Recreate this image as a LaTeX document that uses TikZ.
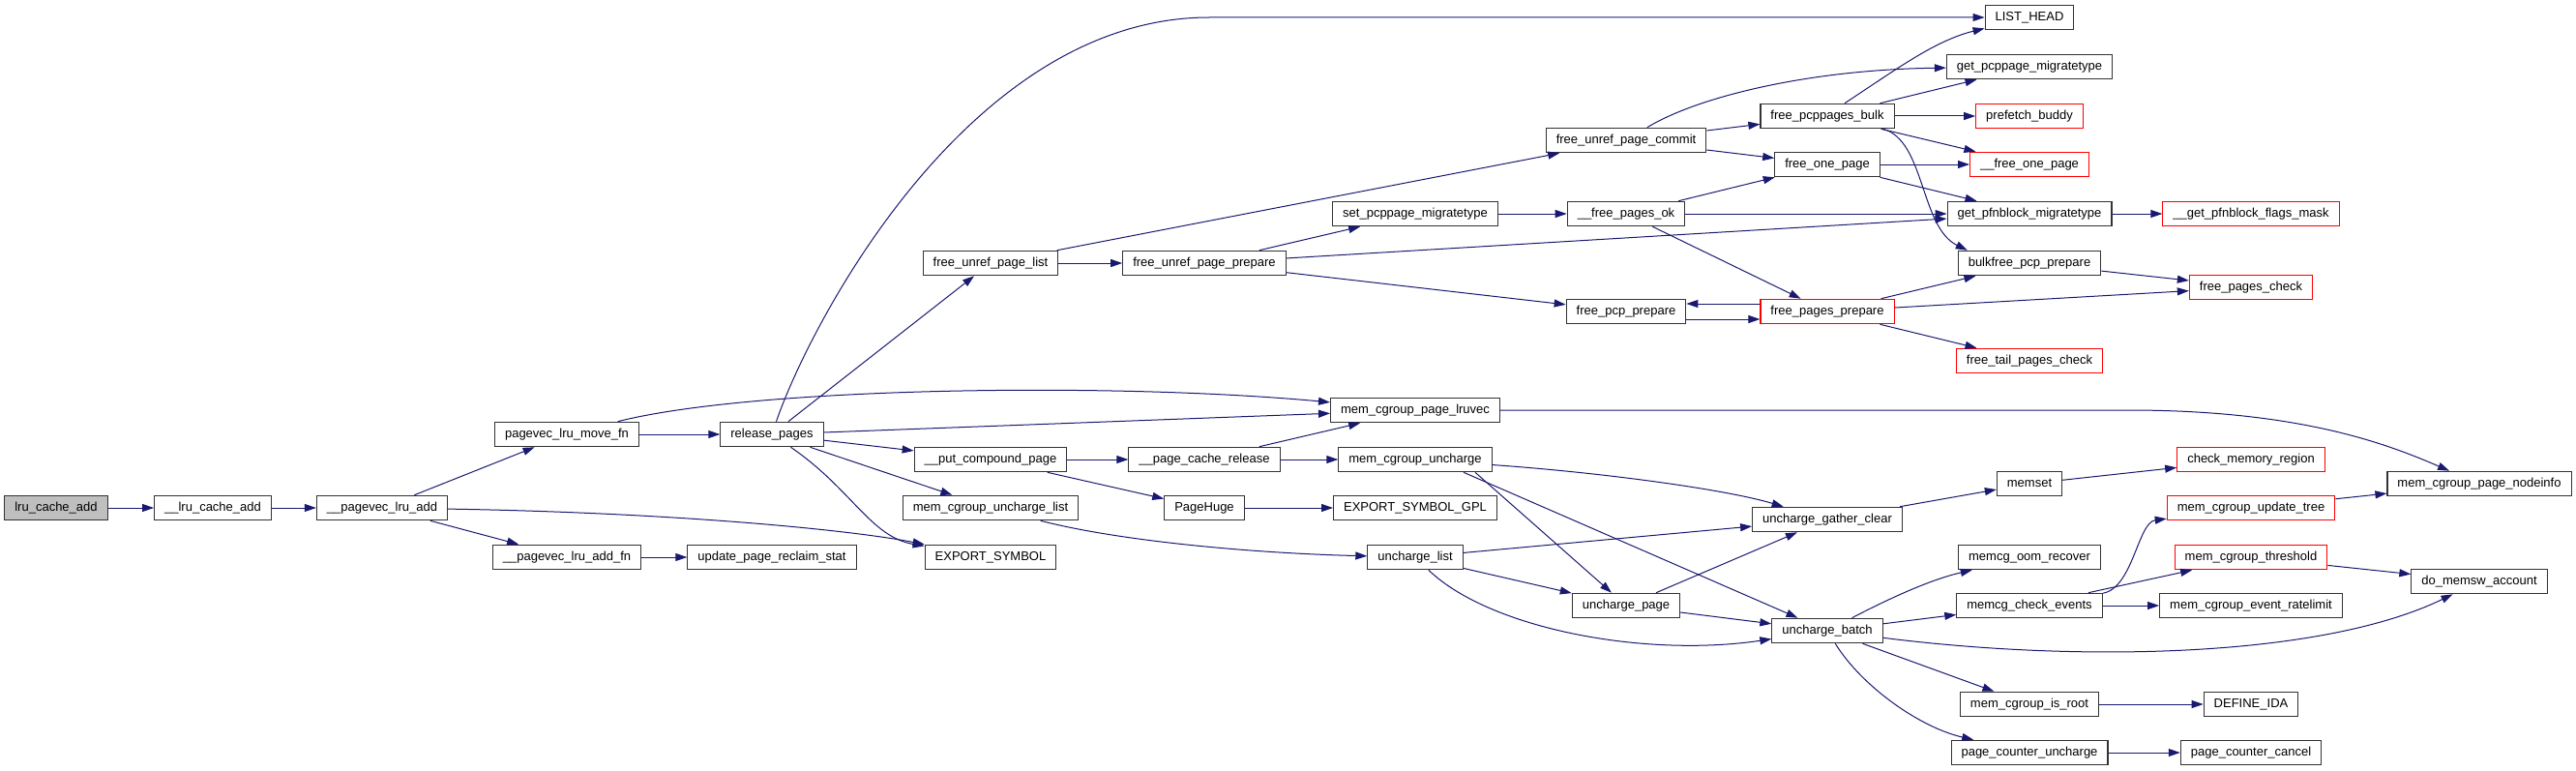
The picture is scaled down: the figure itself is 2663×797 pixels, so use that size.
\documentclass[tikz,border=0pt]{standalone}
\usepackage{fontspec}
\setmainfont{Liberation Sans}
\usetikzlibrary{arrows.meta}
\definecolor{edgeblue}{RGB}{25,25,112}
\definecolor{truncred}{RGB}{255,0,0}

\begin{document}
\begin{tikzpicture}[x=1pt, y=-1pt,
  every node/.style={font=\fontsize{13}{15}\selectfont},
  fn/.style={draw=black!80, fill=white, line width=1.1pt, minimum height=25.5pt, inner xsep=10.5pt, text height=9.6pt, text depth=2.6pt},
  trunc/.style={fn, draw=truncred},
  root/.style={fn, fill=black!25},
  call/.style={draw=edgeblue, line width=1pt, -{Triangle[length=12pt,width=8pt]}}]
  \useasboundingbox (0,0) rectangle (2663,797);

  \node[root] (lruadd) at (58,525) {lru\_cache\_add};
  \node[fn] (lrucadd) at (220,525) {\_\_lru\_cache\_add};
  \node[fn] (pvadd) at (395,525) {\_\_pagevec\_lru\_add};
  \node[fn] (movefn) at (586,449) {pagevec\_lru\_move\_fn};
  \node[fn] (addfn) at (586,576) {\_\_pagevec\_lru\_add\_fn};
  \node[fn] (relpages) at (798,449) {release\_pages};
  \node[fn] (reclaim) at (798,576) {update\_page\_reclaim\_stat};
  \node[fn] (unreflist) at (1024,272) {free\_unref\_page\_list};
  \node[fn] (putcomp) at (1024,475) {\_\_put\_compound\_page};
  \node[fn] (mcgulist) at (1024,525) {mem\_cgroup\_uncharge\_list};
  \node[fn] (expsym) at (1024,576) {EXPORT\_SYMBOL};
  \node[fn] (unrefprep) at (1245,272) {free\_unref\_page\_prepare};
  \node[fn] (cacherel) at (1245,475) {\_\_page\_cache\_release};
  \node[fn] (pagehuge) at (1245,525) {PageHuge};
  \node[fn] (setmt) at (1463,221) {set\_pcppage\_migratetype};
  \node[fn] (lruvec) at (1463,424) {mem\_cgroup\_page\_lruvec};
  \node[fn] (mcgunch) at (1463,475) {mem\_cgroup\_uncharge};
  \node[fn] (expgpl) at (1463,525) {EXPORT\_SYMBOL\_GPL};
  \node[fn] (unchlist) at (1463,576) {uncharge\_list};
  \node[fn] (commit) at (1681,145) {free\_unref\_page\_commit};
  \node[fn] (freeok) at (1681,221) {\_\_free\_pages\_ok};
  \node[fn] (pcpprep) at (1681,322) {free\_pcp\_prepare};
  \node[fn] (unchpage) at (1681,626) {uncharge\_page};
  \node[fn] (pcpbulk) at (1889,120) {free\_pcppages\_bulk};
  \node[fn] (freeone) at (1889,170) {free\_one\_page};
  \node[trunc] (pagesprep) at (1889,322) {free\_pages\_prepare};
  \node[fn] (gather) at (1889,537) {uncharge\_gather\_clear};
  \node[fn] (unchbatch) at (1889,652) {uncharge\_batch};
  \node[fn] (listhead) at (2098,18) {LIST\_HEAD};
  \node[fn] (getpcpmt) at (2098,69) {get\_pcppage\_migratetype};
  \node[trunc] (prefetch) at (2098,120) {prefetch\_buddy};
  \node[trunc] (freeonepg) at (2098,170) {\_\_free\_one\_page};
  \node[fn] (getpfnmt) at (2098,221) {get\_pfnblock\_migratetype};
  \node[fn] (bulkprep) at (2098,272) {bulkfree\_pcp\_prepare};
  \node[trunc] (tailcheck) at (2098,373) {free\_tail\_pages\_check};
  \node[fn] (memset) at (2098,500) {memset};
  \node[fn] (oomrec) at (2098,576) {memcg\_oom\_recover};
  \node[fn] (checkev) at (2098,626) {memcg\_check\_events};
  \node[fn] (isroot) at (2098,728) {mem\_cgroup\_is\_root};
  \node[fn] (pcunch) at (2098,778) {page\_counter\_uncharge};
  \node[trunc] (flagsmask) at (2327,221) {\_\_get\_pfnblock\_flags\_mask};
  \node[trunc] (pagescheck) at (2327,297) {free\_pages\_check};
  \node[trunc] (checkmem) at (2327,475) {check\_memory\_region};
  \node[trunc] (updtree) at (2327,525) {mem\_cgroup\_update\_tree};
  \node[trunc] (threshold) at (2327,576) {mem\_cgroup\_threshold};
  \node[fn] (ratelimit) at (2327,626) {mem\_cgroup\_event\_ratelimit};
  \node[fn] (defida) at (2327,728) {DEFINE\_IDA};
  \node[fn] (pccancel) at (2327,778) {page\_counter\_cancel};
  \node[fn] (nodeinfo) at (2563,500) {mem\_cgroup\_page\_nodeinfo};
  \node[fn] (memsw) at (2563,601) {do\_memsw\_account};

  \draw[call] (lruadd) -- (lrucadd);
  \draw[call] (lrucadd) -- (pvadd);
  \draw[call] (pvadd) -- (movefn);
  \draw[call] (pvadd) -- (addfn);
  \draw[call] (pvadd) .. controls (700,530) and (880,548) .. (expsym);
  \draw[call] (movefn) -- (relpages);
  \draw[call] (movefn) .. controls (780,400) and (1150,395) .. (lruvec);
  \draw[call] (addfn) -- (reclaim);
  \draw[call] (relpages) .. controls (835,340) and (1000,18) .. (1250,18) -- (listhead);
  \draw[call] (relpages) -- (unreflist);
  \draw[call] (relpages) -- (lruvec);
  \draw[call] (relpages) -- (putcomp);
  \draw[call] (relpages) -- (mcgulist);
  \draw[call] (relpages) .. controls (880,505) and (900,555) .. (expsym);
  \draw[call] (unreflist) -- (unrefprep);
  \draw[call] (unreflist) -- (commit);
  \draw[call] (unrefprep) -- (setmt);
  \draw[call] (unrefprep) -- (getpfnmt);
  \draw[call] (unrefprep) -- (pcpprep);
  \draw[call] (setmt) -- (freeok);
  \draw[call] (freeok) -- (freeone);
  \draw[call] (freeok) -- (getpfnmt);
  \draw[call] (freeok) -- (pagesprep);
  \draw[call] (commit) -- (pcpbulk);
  \draw[call] (commit) -- (freeone);
  \draw[call] (commit) .. controls (1755,100) and (1870,72) .. (getpcpmt);
  \draw[call] ([xshift=18pt]pcpbulk.north) .. controls (1960,72) and (2000,42) .. (listhead);
  \draw[call] (pcpbulk) -- (getpcpmt);
  \draw[call] (pcpbulk) -- (prefetch);
  \draw[call] (pcpbulk) -- (freeonepg);
  \draw[call] ([xshift=-12pt]pcpbulk.south east) .. controls (1990,145) and (1985,235) .. ([xshift=10pt]bulkprep.north west);
  \draw[call] (freeone) -- (freeonepg);
  \draw[call] (freeone) -- (getpfnmt);
  \draw[call] ([yshift=-8pt]pcpprep.east) -- ([yshift=-8pt]pagesprep.west);
  \draw[call] ([yshift=8pt]pagesprep.west) -- ([yshift=8pt]pcpprep.east);
  \draw[call] (pagesprep) -- (bulkprep);
  \draw[call] (pagesprep) -- (pagescheck);
  \draw[call] (pagesprep) -- (tailcheck);
  \draw[call] (bulkprep) -- (pagescheck);
  \draw[call] (getpfnmt) -- (flagsmask);
  \draw[call] (putcomp) -- (cacherel);
  \draw[call] (putcomp) -- (pagehuge);
  \draw[call] (cacherel) -- (lruvec);
  \draw[call] (cacherel) -- (mcgunch);
  \draw[call] (pagehuge) -- (expgpl);
  \draw[call] (mcgulist) .. controls (1160,560) and (1300,572) .. (unchlist);
  \draw[call] (lruvec) -- (2200,424) .. controls (2380,424) and (2470,460) .. (nodeinfo);
  \draw[call] (mcgunch) .. controls (1650,488) and (1780,505) .. (gather);
  \draw[call] ([xshift=62pt]mcgunch.south) -- (unchpage);
  \draw[call] ([xshift=50pt]mcgunch.south) -- (unchbatch);
  \draw[call] (unchlist) -- (gather);
  \draw[call] (unchlist) -- (unchpage);
  \draw[call] (unchlist) .. controls (1540,650) and (1700,680) .. (unchbatch);
  \draw[call] (unchpage) -- (gather);
  \draw[call] (unchpage) -- (unchbatch);
  \draw[call] (gather) -- (memset);
  \draw[call] (memset) -- (checkmem);
  \draw[call] (unchbatch) .. controls (1960,615) and (2000,598) .. (oomrec);
  \draw[call] (unchbatch) -- (checkev);
  \draw[call] (unchbatch) .. controls (2150,685) and (2400,680) .. (memsw);
  \draw[call] (unchbatch) -- (isroot);
  \draw[call] (unchbatch) .. controls (1925,710) and (1985,752) .. (pcunch);
  \draw[call] (checkev) .. controls (2205,608) and (2210,540) .. (updtree);
  \draw[call] (checkev) -- (threshold);
  \draw[call] (checkev) -- (ratelimit);
  \draw[call] (updtree) -- (nodeinfo);
  \draw[call] (threshold) -- (memsw);
  \draw[call] (isroot) -- (defida);
  \draw[call] (pcunch) -- (pccancel);
\end{tikzpicture}
\end{document}
